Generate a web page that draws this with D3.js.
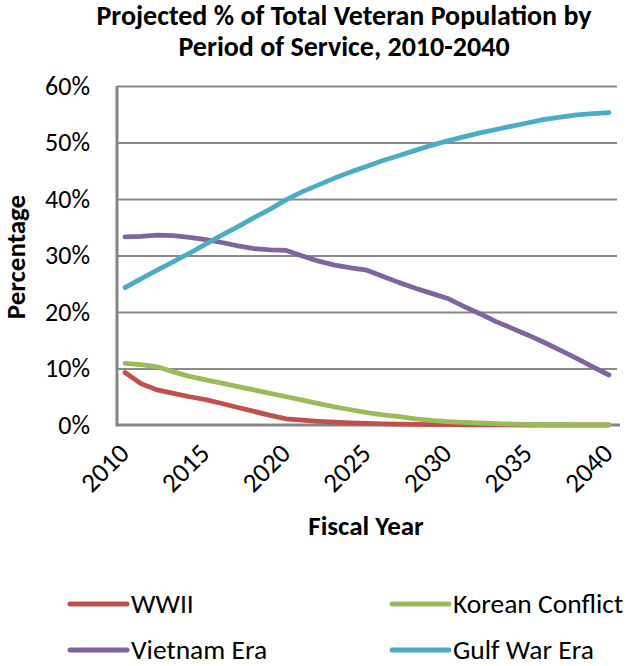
<!DOCTYPE html>
<html>
<head>
<meta charset="utf-8">
<script src="https://cdnjs.cloudflare.com/ajax/libs/d3/7.8.5/d3.min.js"></script>
<style>
  body { margin: 0; background: #fff; }
  svg text { font-family: Carlito, Calibri, Lato, sans-serif; fill: #000; }
</style>
</head>
<body>
<script>
// fiscal years on the category axis
const years = d3.range(2010, 2041);
const tickYears = [2010, 2015, 2020, 2025, 2030, 2035, 2040];
const yTicks = [0, 0.1, 0.2, 0.3, 0.4, 0.5, 0.6];

// projected share of veterans (%) per year
const wwii = [9.3, 7.3, 6.2, 5.6, 5.0, 4.5, 3.8, 3.1, 2.4, 1.7, 1.1, 0.85, 0.65, 0.5, 0.38, 0.28,
  0.2, 0.15, 0.1, 0.08, 0.05, 0.03, 0.02, 0.01, 0.01, 0, 0, 0, 0, 0, 0];
const korean = [10.9, 10.7, 10.3, 9.4, 8.6, 8.0, 7.4, 6.8, 6.2, 5.6, 5.0, 4.4, 3.8, 3.2, 2.7, 2.2,
  1.8, 1.5, 1.1, 0.8, 0.6, 0.45, 0.35, 0.25, 0.15, 0.1, 0.06, 0.04, 0.02, 0.01, 0.01];
const vietnam = [33.3, 33.4, 33.6, 33.5, 33.2, 32.8, 32.3, 31.7, 31.2, 31.0, 30.9, 29.9, 29.0, 28.3,
  27.8, 27.4, 26.3, 25.2, 24.2, 23.3, 22.4, 21.0, 19.7, 18.3, 17.1, 15.9, 14.6, 13.2, 11.8, 10.3, 8.85];
const gulfWar = [24.3, 25.9, 27.4, 28.9, 30.4, 32.0, 33.6, 35.1, 36.7, 38.2, 39.9, 41.3, 42.5, 43.7,
  44.8, 45.8, 46.8, 47.7, 48.6, 49.5, 50.3, 51.0, 51.7, 52.3, 52.9, 53.5, 54.1, 54.5, 54.9, 55.1, 55.3];

const seriesNames = ["WWII", "Korean Conflict", "Vietnam Era", "Gulf War Era"];
const seriesValues = [wwii, korean, vietnam, gulfWar];
const seriesColors = ["#C0504D", "#9BBB59", "#8064A2", "#4BACC6"];

const width = 631;
const height = 666;
const plot = { left: 117, right: 617, top: 86, bottom: 425 };

const svg = d3.select("body")
    .append("svg")
    .attr("width", width)
    .attr("height", height);

const x = d3.scalePoint()
    .domain(years)
    .range([plot.left, plot.right])
    .padding(0.5);

const y = d3.scaleLinear()
    .domain([0, 0.6])
    .range([plot.bottom, plot.top]);

// title
const title = ["Projected % of Total Veteran Population by", "Period of Service, 2010-2040"];
svg.selectAll(".title")
    .data(title)
    .enter()
    .append("text")
    .attr("class", "title")
    .attr("x", 344)
    .attr("y", (d, i) => 25 + i * 30.5)
    .attr("text-anchor", "middle")
    .style("font-size", "28px")
    .style("font-weight", "bold")
    .text(d => d);

// gridlines
svg.append("g")
    .attr("transform", `translate(${plot.left},0)`)
    .call(d3.axisLeft(y).tickValues(yTicks.slice(1)).tickSize(-(plot.right - plot.left)).tickFormat(""))
    .call(g => g.select(".domain").remove())
    .call(g => g.selectAll("line").attr("stroke", "#8a8a8a").attr("stroke-width", 1.8));

// y axis labels
svg.append("g")
    .attr("transform", `translate(${plot.left},0)`)
    .call(d3.axisLeft(y).tickValues(yTicks).tickSize(0).tickPadding(27).tickFormat(d3.format(".0%")))
    .call(g => g.select(".domain").remove())
    .call(g => g.selectAll("text")
        .style("font-size", "26px")
        .style("font-family", "Carlito, Calibri, Lato, sans-serif"));

// x axis labels
const xAxis = svg.append("g")
    .attr("transform", `translate(0,${plot.bottom})`)
    .call(d3.axisBottom(x).tickValues(tickYears).tickSize(0))
    .call(g => g.select(".domain").remove());

xAxis.selectAll("text")
    .attr("x", 0)
    .attr("y", 0)
    .attr("dy", 0)
    .attr("transform", "translate(5,30) rotate(-45)")
    .attr("text-anchor", "end")
    .style("font-size", "27px")
    .style("font-family", "Carlito, Calibri, Lato, sans-serif");

// axis lines
svg.append("line")
    .attr("x1", plot.left).attr("x2", plot.left)
    .attr("y1", plot.top).attr("y2", plot.bottom)
    .attr("stroke", "#858585").attr("stroke-width", 3);
svg.append("line")
    .attr("x1", plot.left - 1.5).attr("x2", plot.right + 3)
    .attr("y1", plot.bottom).attr("y2", plot.bottom)
    .attr("stroke", "#858585").attr("stroke-width", 3);

// axis titles
svg.append("text")
    .attr("transform", "translate(25,257) rotate(-90)")
    .attr("text-anchor", "middle")
    .style("font-size", "27px")
    .style("font-weight", "bold")
    .text("Percentage");

svg.append("text")
    .attr("x", 366)
    .attr("y", 535)
    .attr("text-anchor", "middle")
    .style("font-size", "27px")
    .style("font-weight", "bold")
    .text("Fiscal Year");

// series lines
const line = d3.line()
    .x((d, i) => x(years[i]))
    .y(d => y(d / 100));

svg.selectAll(".series")
    .data(seriesValues)
    .enter()
    .append("path")
    .attr("class", "series")
    .attr("d", d => line(d))
    .attr("fill", "none")
    .attr("stroke", (d, i) => seriesColors[i])
    .attr("stroke-width", 4.8)
    .attr("stroke-linejoin", "round")
    .attr("stroke-linecap", "round");

// legend, two by two
const legendPos = [[70, 604], [392, 604], [70, 650], [392, 650]];
const legend = svg.selectAll(".legend")
    .data(seriesNames)
    .enter()
    .append("g")
    .attr("class", "legend")
    .attr("transform", (d, i) => `translate(${legendPos[i][0]},${legendPos[i][1]})`);

legend.append("line")
    .attr("x1", 0).attr("x2", 57)
    .attr("stroke", (d, i) => seriesColors[i])
    .attr("stroke-width", 5)
    .attr("stroke-linecap", "round");

legend.append("text")
    .attr("x", 61)
    .attr("dy", "0.33em")
    .style("font-size", "27.5px")
    .text(d => d);
</script>
</body>
</html>
